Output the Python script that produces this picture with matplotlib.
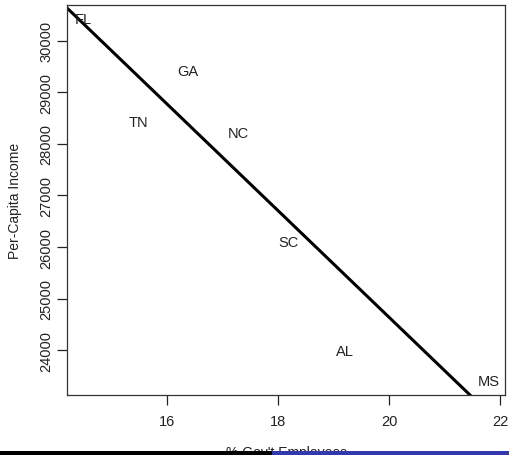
import matplotlib
matplotlib.use("Agg")
from matplotlib import pyplot as plt
from matplotlib.patches import Rectangle

# state labels placed at (% govt employees, per-capita income)
states = ["FL", "GA", "TN", "NC", "SC", "AL", "MS"]
govt_pct = [14.49, 16.38, 15.48, 17.28, 18.19, 19.20, 21.79]
income = [30408, 29411, 28426, 28212, 26107, 23988, 23417]

# fitted line: income = a + b * pct
fit_a = 45297
fit_b = -1033

x_ticks = [16, 18, 20, 22]
y_ticks = [24000, 25000, 26000, 27000, 28000, 29000, 30000]

plt.rcParams["font.family"] = ["Liberation Sans", "DejaVu Sans"]
plt.rcParams["font.size"] = 10

fig = plt.figure(figsize=(5.1, 4.56), dpi=100)
ax = fig.add_axes([0.1314, 0.1316, 0.8588, 0.8552])

for s, x, y in zip(states, govt_pct, income):
    ax.text(x, y, s, ha="center", va="center", fontsize=10.5, color="#222222")

# R-style 4% padding around the data range
xr = max(govt_pct) - min(govt_pct)
yr = max(income) - min(income)
ax.set_xlim(min(govt_pct) - 0.04 * xr, max(govt_pct) + 0.04 * xr)
ax.set_ylim(min(income) - 0.04 * yr, max(income) + 0.04 * yr)

ax.axline((0, fit_a), slope=fit_b, color="black", linewidth=2.2)

ax.set_xticks(x_ticks)
ax.set_yticks(y_ticks)
ax.set_yticklabels([str(v) for v in y_ticks], rotation=90, va="center")
ax.tick_params(axis="both", direction="out", length=7, width=0.9,
               colors="#222222", labelsize=10.5)
ax.tick_params(axis="x", pad=7)
ax.tick_params(axis="y", pad=3)
for sp in ax.spines.values():
    sp.set_color("#333333")
    sp.set_linewidth(0.9)

ax.set_xlabel("% Gov't Employees", fontsize=10, color="#222222")
ax.xaxis.set_label_coords(0.5, -0.128)
fig.text(15 / 510, 0.5 * (0.1316 + 0.9868), "Per-Capita Income", rotation=90,
         ha="center", va="center", fontsize=10, color="#222222")

# strip along the bottom edge
fig.patches.append(Rectangle((0, 0), 272 / 510, 4 / 456, transform=fig.transFigure,
                             facecolor="black", edgecolor="none", zorder=10))
fig.patches.append(Rectangle((272 / 510, 0), 238 / 510, 4 / 456, transform=fig.transFigure,
                             facecolor="#3438b0", edgecolor="none", zorder=10))

fig.savefig("out.png", dpi=100)
